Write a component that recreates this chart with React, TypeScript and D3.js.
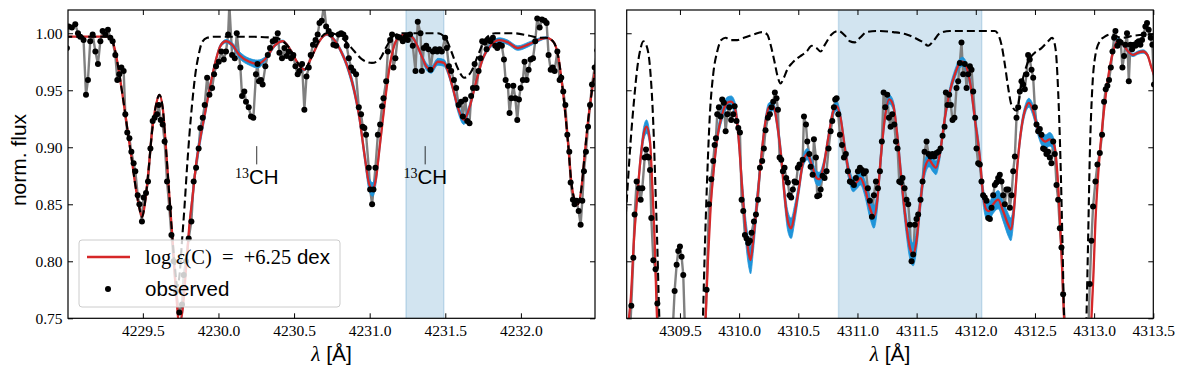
import React, { useEffect, useRef } from 'react';
import * as d3 from 'd3';

// ---- data ----
// observed spectrum, [wavelength (A), normalized flux]
const obsLeft: [number, number][] = [
  [4228.998, 0.987], [4229.009, 1.006], [4229.031, 1.005], [4229.053, 1.008], [4229.071, 1.0], [4229.086, 0.997],
  [4229.108, 0.994], [4229.124, 0.946], [4229.137, 0.959], [4229.152, 0.993], [4229.168, 0.999], [4229.186, 0.984],
  [4229.203, 0.973], [4229.219, 0.993], [4229.234, 1.002], [4229.252, 0.999], [4229.269, 1.003], [4229.285, 0.996],
  [4229.3, 0.993], [4229.318, 0.981], [4229.331, 0.959], [4229.344, 0.964], [4229.358, 0.97], [4229.373, 0.967],
  [4229.384, 0.929], [4229.397, 0.913], [4229.411, 0.908], [4229.424, 0.896], [4229.439, 0.886], [4229.45, 0.879],
  [4229.466, 0.858], [4229.477, 0.85], [4229.494, 0.835], [4229.505, 0.856], [4229.521, 0.86], [4229.534, 0.87],
  [4229.55, 0.899], [4229.565, 0.923], [4229.578, 0.926], [4229.594, 0.929], [4229.605, 0.937], [4229.618, 0.924],
  [4229.631, 0.92], [4229.644, 0.905], [4229.66, 0.87], [4229.675, 0.847], [4229.689, 0.823], [4229.704, 0.8],
  [4229.719, 0.774], [4229.741, 0.755], [4229.759, 0.762], [4229.77, 0.788], [4229.786, 0.8], [4229.803, 0.82],
  [4229.821, 0.835], [4229.836, 0.87], [4229.852, 0.882], [4229.869, 0.899], [4229.88, 0.917], [4229.896, 0.926],
  [4229.909, 0.937], [4229.925, 0.961], [4229.94, 0.946], [4229.958, 0.952], [4229.971, 0.964], [4229.984, 0.971],
  [4230.002, 0.975], [4230.019, 0.984], [4230.035, 0.977], [4230.05, 0.984], [4230.064, 0.999], [4230.072, 1.025],
  [4230.09, 0.981], [4230.108, 0.978], [4230.121, 1.0], [4230.145, 0.97], [4230.156, 0.945], [4230.171, 0.949],
  [4230.182, 0.94], [4230.2, 0.935], [4230.215, 0.927], [4230.231, 0.926], [4230.248, 0.964], [4230.258, 0.973],
  [4230.268, 0.958], [4230.281, 0.959], [4230.292, 0.955], [4230.31, 0.971], [4230.326, 0.981], [4230.341, 0.987],
  [4230.359, 0.993], [4230.376, 0.994], [4230.392, 1.0], [4230.403, 0.983], [4230.42, 0.978], [4230.436, 0.987],
  [4230.451, 0.98], [4230.465, 0.984], [4230.48, 0.978], [4230.495, 0.981], [4230.509, 0.971], [4230.524, 0.964],
  [4230.535, 0.967], [4230.553, 0.973], [4230.568, 0.933], [4230.582, 0.962], [4230.597, 0.97], [4230.61, 0.981],
  [4230.625, 0.99], [4230.642, 0.994], [4230.656, 0.999], [4230.668, 1.009], [4230.683, 1.011], [4230.698, 1.025],
  [4230.712, 1.006], [4230.729, 1.002], [4230.745, 0.999], [4230.76, 0.99], [4230.778, 0.989], [4230.795, 0.999],
  [4230.811, 1.0], [4230.826, 0.999], [4230.84, 0.996], [4230.848, 0.989], [4230.862, 0.978], [4230.877, 0.97],
  [4230.892, 0.967], [4230.91, 0.964], [4230.928, 0.935], [4230.943, 0.929], [4230.954, 0.918], [4230.965, 0.917],
  [4230.976, 0.911], [4230.994, 0.882], [4231.003, 0.863], [4231.016, 0.85], [4231.025, 0.863], [4231.038, 0.882],
  [4231.054, 0.911], [4231.069, 0.92], [4231.082, 0.936], [4231.091, 0.943], [4231.109, 0.958], [4231.12, 0.984],
  [4231.135, 0.994], [4231.148, 0.999], [4231.157, 0.97], [4231.17, 0.978], [4231.186, 0.997], [4231.201, 0.996],
  [4231.219, 0.993], [4231.237, 0.997], [4231.252, 0.994], [4231.267, 0.999], [4231.285, 0.989], [4231.303, 0.967],
  [4231.318, 1.01], [4231.336, 1.0], [4231.345, 0.967], [4231.358, 0.987], [4231.374, 0.989], [4231.389, 0.986],
  [4231.402, 0.968], [4231.418, 0.984], [4231.433, 0.986], [4231.447, 0.984], [4231.462, 0.986], [4231.477, 0.984],
  [4231.499, 0.996], [4231.51, 0.987], [4231.524, 0.971], [4231.539, 0.967], [4231.557, 0.959], [4231.572, 0.952],
  [4231.588, 0.937], [4231.605, 0.94], [4231.616, 0.927], [4231.632, 0.942], [4231.645, 0.923], [4231.66, 0.921],
  [4231.671, 0.945], [4231.683, 0.952], [4231.694, 0.973], [4231.707, 0.952], [4231.72, 0.967], [4231.733, 0.978],
  [4231.744, 0.993], [4231.76, 0.992], [4231.773, 0.986], [4231.786, 0.994], [4231.799, 0.993], [4231.815, 0.996],
  [4231.83, 0.989], [4231.844, 0.987], [4231.859, 0.99], [4231.874, 0.989], [4231.888, 0.977], [4231.899, 0.959],
  [4231.914, 0.954], [4231.925, 0.93], [4231.936, 0.943], [4231.95, 0.954], [4231.963, 0.943], [4231.976, 0.924],
  [4231.987, 0.942], [4231.998, 0.952], [4232.013, 0.959], [4232.024, 0.975], [4232.038, 0.959], [4232.051, 0.968],
  [4232.064, 0.977], [4232.08, 0.978], [4232.095, 0.993], [4232.108, 1.013], [4232.124, 1.005], [4232.139, 1.012],
  [4232.157, 1.011], [4232.17, 1.009], [4232.183, 0.981], [4232.197, 0.968], [4232.21, 0.97], [4232.223, 0.967],
  [4232.241, 0.984], [4232.256, 0.959], [4232.267, 0.961], [4232.28, 0.949], [4232.294, 0.937], [4232.307, 0.911],
  [4232.32, 0.896], [4232.329, 0.869], [4232.344, 0.854], [4232.355, 0.85], [4232.369, 0.853], [4232.382, 0.844],
  [4232.395, 0.832], [4232.406, 0.853], [4232.417, 0.879], [4232.43, 0.896], [4232.444, 0.918], [4232.457, 0.937],
  [4232.47, 0.955], [4232.488, 0.97], [4232.505, 0.985],
];

const obsRight: [number, number][] = [
  [4309.07, 0.72], [4309.089, 0.761], [4309.106, 0.803], [4309.117, 0.841], [4309.134, 0.87], [4309.154, 0.864],
  [4309.168, 0.854], [4309.182, 0.864], [4309.202, 0.891], [4309.213, 0.898], [4309.224, 0.892], [4309.235, 0.891],
  [4309.247, 0.88], [4309.258, 0.838], [4309.275, 0.801], [4309.294, 0.793], [4309.309, 0.763], [4309.33, 0.72],
  [4309.43, 0.72], [4309.455, 0.774], [4309.472, 0.797], [4309.486, 0.809], [4309.5, 0.813], [4309.514, 0.804],
  [4309.528, 0.788], [4309.545, 0.73], [4309.56, 0.7], [4309.7, 0.7], [4309.725, 0.775], [4309.745, 0.85],
  [4309.765, 0.872], [4309.781, 0.888], [4309.793, 0.902], [4309.804, 0.908], [4309.815, 0.929], [4309.829, 0.935],
  [4309.843, 0.927], [4309.857, 0.942], [4309.871, 0.939], [4309.886, 0.914], [4309.9, 0.929], [4309.917, 0.935],
  [4309.933, 0.924], [4309.95, 0.929], [4309.962, 0.936], [4309.978, 0.923], [4309.993, 0.917], [4310.007, 0.913],
  [4310.021, 0.854], [4310.035, 0.844], [4310.049, 0.823], [4310.063, 0.82], [4310.077, 0.816], [4310.091, 0.818],
  [4310.105, 0.825], [4310.125, 0.835], [4310.142, 0.841], [4310.159, 0.854], [4310.176, 0.882], [4310.195, 0.888],
  [4310.209, 0.899], [4310.223, 0.915], [4310.243, 0.926], [4310.26, 0.929], [4310.274, 0.935], [4310.288, 0.94],
  [4310.302, 0.948], [4310.316, 0.943], [4310.328, 0.933], [4310.342, 0.891], [4310.356, 0.889], [4310.37, 0.879],
  [4310.384, 0.882], [4310.398, 0.873], [4310.412, 0.869], [4310.426, 0.858], [4310.44, 0.856], [4310.454, 0.863],
  [4310.468, 0.87], [4310.482, 0.869], [4310.496, 0.882], [4310.51, 0.885], [4310.537, 0.889], [4310.548, 0.927],
  [4310.565, 0.92], [4310.576, 0.905], [4310.593, 0.894], [4310.604, 0.883], [4310.621, 0.876], [4310.632, 0.907],
  [4310.649, 0.891], [4310.66, 0.857], [4310.677, 0.858], [4310.689, 0.863], [4310.705, 0.875], [4310.722, 0.873],
  [4310.739, 0.879], [4310.756, 0.899], [4310.773, 0.914], [4310.787, 0.923], [4310.801, 0.935], [4310.812, 0.942],
  [4310.824, 0.943], [4310.838, 0.929], [4310.852, 0.911], [4310.869, 0.902], [4310.886, 0.891], [4310.902, 0.894],
  [4310.919, 0.879], [4310.936, 0.87], [4310.953, 0.869], [4310.97, 0.867], [4310.987, 0.873], [4311.004, 0.879],
  [4311.021, 0.882], [4311.038, 0.88], [4311.054, 0.877], [4311.071, 0.879], [4311.088, 0.864], [4311.105, 0.853],
  [4311.122, 0.839], [4311.139, 0.858], [4311.156, 0.87], [4311.173, 0.864], [4311.19, 0.879], [4311.206, 0.905],
  [4311.221, 0.948], [4311.235, 0.935], [4311.252, 0.946], [4311.266, 0.926], [4311.28, 0.918], [4311.294, 0.929],
  [4311.311, 0.92], [4311.325, 0.905], [4311.339, 0.899], [4311.353, 0.87], [4311.367, 0.869], [4311.381, 0.873],
  [4311.398, 0.864], [4311.415, 0.854], [4311.429, 0.85], [4311.443, 0.832], [4311.457, 0.8], [4311.471, 0.806],
  [4311.485, 0.832], [4311.499, 0.837], [4311.513, 0.841], [4311.533, 0.854], [4311.55, 0.87], [4311.567, 0.896],
  [4311.584, 0.905], [4311.601, 0.894], [4311.617, 0.892], [4311.634, 0.894], [4311.651, 0.892], [4311.668, 0.895],
  [4311.685, 0.896], [4311.702, 0.899], [4311.719, 0.91], [4311.736, 0.918], [4311.747, 0.948], [4311.761, 0.937],
  [4311.775, 0.946], [4311.789, 0.937], [4311.803, 0.924], [4311.82, 0.926], [4311.837, 0.952], [4311.851, 0.958],
  [4311.865, 0.974], [4311.879, 0.992], [4311.893, 0.964], [4311.907, 0.973], [4311.922, 0.952], [4311.936, 0.964],
  [4311.95, 0.971], [4311.964, 0.968], [4311.978, 0.949], [4311.995, 0.926], [4312.006, 0.899], [4312.02, 0.886],
  [4312.034, 0.885], [4312.048, 0.87], [4312.062, 0.858], [4312.076, 0.856], [4312.091, 0.853], [4312.105, 0.838],
  [4312.119, 0.837], [4312.133, 0.847], [4312.147, 0.858], [4312.161, 0.867], [4312.175, 0.869], [4312.189, 0.873],
  [4312.203, 0.876], [4312.217, 0.87], [4312.231, 0.858], [4312.245, 0.85], [4312.259, 0.863], [4312.274, 0.863],
  [4312.288, 0.847], [4312.302, 0.858], [4312.316, 0.879], [4312.33, 0.892], [4312.344, 0.926], [4312.358, 0.935],
  [4312.372, 0.949], [4312.386, 0.958], [4312.4, 0.955], [4312.414, 0.951], [4312.428, 0.964], [4312.442, 0.981],
  [4312.456, 0.977], [4312.471, 0.968], [4312.485, 0.961], [4312.499, 0.935], [4312.513, 0.92], [4312.527, 0.914],
  [4312.541, 0.916], [4312.555, 0.911], [4312.569, 0.899], [4312.583, 0.898], [4312.597, 0.894], [4312.611, 0.896],
  [4312.625, 0.891], [4312.639, 0.886], [4312.654, 0.905], [4312.668, 0.894], [4312.682, 0.867], [4312.696, 0.854],
  [4312.71, 0.829], [4312.724, 0.812], [4312.738, 0.771], [4312.76, 0.73], [4312.85, 0.65], [4312.94, 0.7],
  [4312.963, 0.78], [4312.977, 0.818], [4312.991, 0.848], [4313.011, 0.87], [4313.028, 0.885], [4313.048, 0.895],
  [4313.067, 0.911], [4313.084, 0.94], [4313.098, 0.951], [4313.112, 0.954], [4313.126, 0.959], [4313.141, 0.97],
  [4313.155, 0.984], [4313.169, 0.996], [4313.18, 1.002], [4313.197, 0.989], [4313.211, 0.993], [4313.225, 0.992],
  [4313.239, 0.97], [4313.253, 0.98], [4313.264, 0.99], [4313.278, 1.0], [4313.293, 0.958], [4313.307, 0.99],
  [4313.321, 0.986], [4313.335, 0.99], [4313.349, 0.989], [4313.363, 0.992], [4313.377, 0.993], [4313.391, 0.99],
  [4313.405, 0.994], [4313.419, 0.999], [4313.433, 1.006], [4313.447, 1.009], [4313.461, 1.003], [4313.478, 0.996],
  [4313.492, 0.99], [4313.506, 0.955],
];

// best-fit synthesis, [wavelength, flux, half-width of the abundance band]
const fitLeft: [number, number, number][] = [
  [4228.98, 0.997, 0], [4229.1, 0.997, 0], [4229.274, 0.997, 0], [4229.296, 0.994, 0], [4229.318, 0.984, 0],
  [4229.34, 0.968, 0], [4229.362, 0.949, 0], [4229.384, 0.929, 0], [4229.406, 0.908, 0], [4229.428, 0.888, 0],
  [4229.45, 0.867, 0], [4229.472, 0.85, 0], [4229.494, 0.839, 0], [4229.516, 0.853, 0], [4229.539, 0.882, 0],
  [4229.561, 0.914, 0], [4229.587, 0.937, 0], [4229.609, 0.946, 0], [4229.631, 0.935, 0], [4229.653, 0.899, 0],
  [4229.675, 0.858, 0], [4229.697, 0.818, 0], [4229.719, 0.774, 0.001], [4229.741, 0.745, 0.002],
  [4229.764, 0.759, 0.003], [4229.786, 0.794, 0.004], [4229.808, 0.832, 0.004], [4229.83, 0.858, 0.005],
  [4229.852, 0.885, 0.005], [4229.88, 0.908, 0.005], [4229.914, 0.932, 0.004], [4229.947, 0.955, 0.003],
  [4229.98, 0.975, 0.002], [4230.013, 0.989, 0.0015], [4230.05, 0.993, 0.0015], [4230.09, 0.99, 0.002],
  [4230.138, 0.981, 0.003], [4230.204, 0.975, 0.003], [4230.259, 0.973, 0.0035], [4230.314, 0.978, 0.002],
  [4230.37, 0.989, 0.0015], [4230.425, 0.993, 0.001], [4230.469, 0.987, 0.001], [4230.524, 0.974, 0.001],
  [4230.568, 0.968, 0.001], [4230.612, 0.978, 0.001], [4230.667, 0.993, 0.001], [4230.716, 0.999, 0.001],
  [4230.767, 0.994, 0.0015], [4230.811, 0.984, 0.002], [4230.855, 0.97, 0.003], [4230.899, 0.949, 0.004],
  [4230.932, 0.926, 0.004], [4230.965, 0.894, 0.005], [4230.998, 0.867, 0.006], [4231.02, 0.863, 0.006],
  [4231.042, 0.873, 0.005], [4231.065, 0.899, 0.004], [4231.098, 0.937, 0.003], [4231.131, 0.97, 0.002],
  [4231.164, 0.99, 0.0015], [4231.197, 0.997, 0.001], [4231.241, 0.999, 0.001], [4231.285, 0.996, 0.0015],
  [4231.341, 0.981, 0.002], [4231.374, 0.971, 0.003], [4231.407, 0.968, 0.003], [4231.451, 0.975, 0.003],
  [4231.491, 0.974, 0.003], [4231.517, 0.967, 0.003], [4231.55, 0.952, 0.003], [4231.583, 0.935, 0.004],
  [4231.623, 0.924, 0.004], [4231.66, 0.935, 0.003], [4231.705, 0.958, 0.002], [4231.749, 0.978, 0.002],
  [4231.804, 0.99, 0.002], [4231.859, 0.994, 0.002], [4231.914, 0.992, 0.002], [4231.98, 0.987, 0.002],
  [4232.047, 0.99, 0.002], [4232.113, 0.994, 0.0015], [4232.168, 0.996, 0.001], [4232.212, 0.993, 0],
  [4232.245, 0.981, 0], [4232.278, 0.949, 0], [4232.311, 0.905, 0], [4232.333, 0.87, 0], [4232.355, 0.854, 0],
  [4232.377, 0.85, 0], [4232.4, 0.864, 0], [4232.422, 0.894, 0], [4232.444, 0.923, 0], [4232.466, 0.946, 0],
  [4232.494, 0.97, 0],
];

const fitRight: [number, number, number][] = [
  [4309.04, 0.72, 0.003], [4309.069, 0.75, 0.004], [4309.083, 0.765, 0.004], [4309.111, 0.818, 0.005],
  [4309.14, 0.858, 0.005], [4309.168, 0.891, 0.006], [4309.196, 0.913, 0.006], [4309.218, 0.918, 0.006],
  [4309.247, 0.905, 0.005], [4309.266, 0.867, 0.004], [4309.286, 0.818, 0.004], [4309.303, 0.759, 0.003],
  [4309.32, 0.72, 0.002], [4309.4, 0.64, 0], [4309.55, 0.62, 0], [4309.68, 0.66, 0], [4309.717, 0.75, 0.002],
  [4309.736, 0.8, 0.003], [4309.759, 0.847, 0.004], [4309.787, 0.882, 0.005], [4309.815, 0.908, 0.005],
  [4309.857, 0.929, 0.005], [4309.9, 0.939, 0.005], [4309.933, 0.94, 0.005], [4309.97, 0.932, 0.006],
  [4309.998, 0.905, 0.007], [4310.026, 0.864, 0.009], [4310.054, 0.829, 0.011], [4310.083, 0.806, 0.012],
  [4310.097, 0.801, 0.012], [4310.119, 0.818, 0.011], [4310.147, 0.847, 0.009], [4310.181, 0.885, 0.006],
  [4310.215, 0.917, 0.005], [4310.252, 0.935, 0.004], [4310.288, 0.936, 0.004], [4310.322, 0.92, 0.005],
  [4310.356, 0.891, 0.007], [4310.384, 0.858, 0.008], [4310.412, 0.835, 0.009], [4310.44, 0.829, 0.009],
  [4310.468, 0.841, 0.008], [4310.505, 0.864, 0.006], [4310.542, 0.888, 0.005], [4310.576, 0.894, 0.005],
  [4310.613, 0.885, 0.005], [4310.655, 0.873, 0.006], [4310.677, 0.872, 0.006], [4310.711, 0.882, 0.005],
  [4310.753, 0.908, 0.004], [4310.796, 0.932, 0.004], [4310.824, 0.936, 0.004], [4310.857, 0.926, 0.004],
  [4310.894, 0.899, 0.005], [4310.931, 0.876, 0.006], [4310.964, 0.867, 0.006], [4310.998, 0.87, 0.006],
  [4311.026, 0.873, 0.006], [4311.063, 0.864, 0.007], [4311.105, 0.847, 0.009], [4311.139, 0.839, 0.01],
  [4311.167, 0.853, 0.009], [4311.195, 0.888, 0.007], [4311.232, 0.926, 0.005], [4311.268, 0.942, 0.004],
  [4311.302, 0.937, 0.004], [4311.336, 0.911, 0.006], [4311.373, 0.87, 0.008], [4311.409, 0.835, 0.009],
  [4311.443, 0.812, 0.01], [4311.471, 0.806, 0.01], [4311.499, 0.818, 0.009], [4311.533, 0.853, 0.008],
  [4311.57, 0.882, 0.007], [4311.606, 0.889, 0.006], [4311.634, 0.885, 0.006], [4311.663, 0.882, 0.006],
  [4311.696, 0.894, 0.005], [4311.739, 0.926, 0.004], [4311.781, 0.949, 0.004], [4311.823, 0.964, 0.004],
  [4311.86, 0.973, 0.004], [4311.888, 0.975, 0.004], [4311.922, 0.97, 0.004], [4311.955, 0.955, 0.005],
  [4311.992, 0.925, 0.006], [4312.034, 0.891, 0.007], [4312.062, 0.858, 0.008], [4312.091, 0.845, 0.008],
  [4312.11, 0.844, 0.008], [4312.147, 0.85, 0.008], [4312.189, 0.854, 0.008], [4312.231, 0.844, 0.009],
  [4312.274, 0.832, 0.01], [4312.296, 0.828, 0.01], [4312.324, 0.847, 0.008], [4312.352, 0.885, 0.006],
  [4312.386, 0.917, 0.005], [4312.42, 0.934, 0.004], [4312.448, 0.939, 0.004], [4312.485, 0.932, 0.005],
  [4312.521, 0.917, 0.005], [4312.555, 0.908, 0.006], [4312.589, 0.905, 0.006], [4312.625, 0.907, 0.006],
  [4312.662, 0.902, 0.005], [4312.69, 0.876, 0.004], [4312.713, 0.832, 0.003], [4312.732, 0.788, 0.002],
  [4312.746, 0.75, 0.001], [4312.766, 0.71, 0], [4312.85, 0.62, 0], [4312.94, 0.66, 0], [4312.963, 0.72, 0.001],
  [4312.977, 0.75, 0.001], [4312.994, 0.788, 0.002], [4313.011, 0.835, 0.002], [4313.034, 0.876, 0.002],
  [4313.062, 0.911, 0.002], [4313.095, 0.943, 0.002], [4313.132, 0.97, 0.002], [4313.169, 0.987, 0.002],
  [4313.202, 0.994, 0.0015], [4313.245, 0.99, 0.0015], [4313.287, 0.984, 0.0015], [4313.329, 0.981, 0.0015],
  [4313.371, 0.983, 0.0015], [4313.414, 0.984, 0.0015], [4313.45, 0.981, 0.0015], [4313.484, 0.97, 0.0015],
  [4313.51, 0.962, 0.0015],
];

// synthesis without carbon (dashed)
const noCarbonLeft: [number, number][] = [
  [4228.98, 0.997], [4229.1, 0.997], [4229.274, 0.997], [4229.296, 0.994], [4229.318, 0.984], [4229.34, 0.968],
  [4229.362, 0.949], [4229.384, 0.929], [4229.406, 0.908], [4229.428, 0.888], [4229.45, 0.867], [4229.472, 0.85],
  [4229.494, 0.839], [4229.516, 0.853], [4229.539, 0.882], [4229.561, 0.914], [4229.587, 0.937], [4229.609, 0.946],
  [4229.631, 0.935], [4229.653, 0.899], [4229.675, 0.858], [4229.697, 0.818], [4229.712, 0.795], [4229.728, 0.778],
  [4229.744, 0.79], [4229.759, 0.818], [4229.775, 0.847], [4229.792, 0.882], [4229.808, 0.911], [4229.825, 0.937],
  [4229.847, 0.964], [4229.869, 0.981], [4229.891, 0.992], [4229.925, 0.996], [4229.98, 0.997], [4230.18, 0.997],
  [4230.38, 0.996], [4230.425, 0.993], [4230.469, 0.987], [4230.524, 0.974], [4230.568, 0.968], [4230.612, 0.978],
  [4230.667, 0.994], [4230.716, 1.0], [4230.78, 0.999], [4230.84, 0.993], [4230.9, 0.984], [4230.95, 0.977],
  [4231.015, 0.974], [4231.065, 0.977], [4231.11, 0.988], [4231.16, 0.998], [4231.22, 1.0], [4231.45, 1.0],
  [4231.5, 0.996], [4231.54, 0.984], [4231.58, 0.97], [4231.625, 0.961], [4231.67, 0.966], [4231.72, 0.982],
  [4231.765, 0.995], [4231.83, 1.0], [4231.95, 1.0], [4232.05, 0.998], [4232.13, 0.996], [4232.168, 0.996],
  [4232.212, 0.993], [4232.245, 0.981], [4232.278, 0.949], [4232.311, 0.905], [4232.333, 0.87], [4232.355, 0.854],
  [4232.377, 0.85], [4232.4, 0.864], [4232.422, 0.894], [4232.444, 0.923], [4232.466, 0.946], [4232.494, 0.97],
];

const noCarbonRight: [number, number][] = [
  [4309.03, 0.82], [4309.055, 0.861], [4309.083, 0.905], [4309.111, 0.94], [4309.14, 0.97], [4309.168, 0.987],
  [4309.19, 0.993], [4309.218, 0.989], [4309.247, 0.97], [4309.275, 0.92], [4309.294, 0.861], [4309.309, 0.812],
  [4309.323, 0.759], [4309.337, 0.72], [4309.5, 0.6], [4309.68, 0.72], [4309.694, 0.75], [4309.708, 0.803],
  [4309.731, 0.876], [4309.753, 0.929], [4309.781, 0.964], [4309.815, 0.984], [4309.849, 0.994], [4309.886, 0.996],
  [4309.928, 0.994], [4309.984, 0.994], [4310.04, 0.996], [4310.125, 0.999], [4310.195, 1.001], [4310.237, 0.999],
  [4310.266, 0.99], [4310.299, 0.975], [4310.328, 0.961], [4310.35, 0.956], [4310.378, 0.961], [4310.406, 0.968],
  [4310.449, 0.974], [4310.491, 0.978], [4310.533, 0.981], [4310.57, 0.984], [4310.613, 0.989], [4310.655, 0.987],
  [4310.689, 0.984], [4310.725, 0.99], [4310.781, 0.999], [4310.838, 1.002], [4310.894, 0.998], [4310.936, 0.993],
  [4310.978, 0.992], [4311.021, 0.996], [4311.077, 1.001], [4311.161, 1.002], [4311.302, 1.001], [4311.415, 0.999],
  [4311.485, 0.996], [4311.556, 0.992], [4311.598, 0.989], [4311.64, 0.993], [4311.696, 1.0], [4311.781, 1.002],
  [4312.161, 1.002], [4312.189, 0.999], [4312.217, 0.99], [4312.245, 0.973], [4312.274, 0.952], [4312.302, 0.937],
  [4312.344, 0.932], [4312.386, 0.955], [4312.442, 0.975], [4312.499, 0.983], [4312.555, 0.987], [4312.611, 0.993],
  [4312.645, 0.996], [4312.673, 0.987], [4312.696, 0.949], [4312.715, 0.891], [4312.732, 0.818], [4312.746, 0.75],
  [4312.76, 0.7], [4312.85, 0.6], [4312.921, 0.7], [4312.935, 0.75], [4312.949, 0.818], [4312.963, 0.891],
  [4312.983, 0.949], [4313.011, 0.981], [4313.048, 0.993], [4313.09, 0.997], [4313.146, 0.999], [4313.231, 0.996],
  [4313.343, 0.998], [4313.512, 0.999],
];

// fitting windows and 13CH markers
const windowLeft = [4231.24, 4231.49];
const windowRight = [4310.84, 4312.05];
const ch13Lines = [4230.253, 4231.367];

const xTicksLeft = [4229.5, 4230.0, 4230.5, 4231.0, 4231.5, 4232.0];
const xTicksRight = [4309.5, 4310.0, 4310.5, 4311.0, 4311.5, 4312.0, 4312.5, 4313.0, 4313.5];
const yTicks = [0.75, 0.8, 0.85, 0.9, 0.95, 1.0];

const W = 1186;
const H = 377;
const TOP = 10;
const BOTTOM = 318.3;
const YDOM = [0.75, 1.0204];

const RED = '#d62728';
const BAND = '#1f94d9';
const SERIF = '"Liberation Serif", "DejaVu Serif", serif';
const SANS = '"Liberation Sans", Arial, sans-serif';

const panels = [
  { x0: 68, x1: 595, domain: [4229.005, 4232.49], ticks: xTicksLeft, obs: obsLeft, fit: fitLeft, nc: noCarbonLeft, win: windowLeft, marks: ch13Lines, ylab: true },
  { x0: 626.7, x1: 1153.3, domain: [4309.05, 4313.5], ticks: xTicksRight, obs: obsRight, fit: fitRight, nc: noCarbonRight, win: windowRight, marks: [], ylab: false },
];

function drawPanel(svg: any, p: any, i: number) {
  const x = d3.scaleLinear().domain(p.domain).range([p.x0, p.x1]);
  const y = d3.scaleLinear().domain(YDOM).range([BOTTOM, TOP]);

  const clipId = 'clip' + i;
  svg.append('clipPath').attr('id', clipId)
    .append('rect').attr('x', p.x0).attr('y', TOP).attr('width', p.x1 - p.x0).attr('height', BOTTOM - TOP);

  const g = svg.append('g').attr('clip-path', `url(#${clipId})`);

  // fitting window
  g.append('rect')
    .attr('x', x(p.win[0])).attr('y', TOP - 2)
    .attr('width', x(p.win[1]) - x(p.win[0])).attr('height', BOTTOM - TOP + 4)
    .attr('fill', '#1f77b4').attr('fill-opacity', 0.2)
    .attr('stroke', '#1f77b4').attr('stroke-opacity', 0.2).attr('stroke-width', 1.5);

  // observed, grey line
  const obsLine = d3.line<[number, number]>().x(d => x(d[0])).y(d => y(d[1]));
  g.append('path').datum(p.obs).attr('d', obsLine)
    .attr('fill', 'none').attr('stroke', '#808080').attr('stroke-width', 2.4).attr('stroke-linejoin', 'round');

  // abundance band
  const band = d3.area<[number, number, number]>()
    .x(d => x(d[0])).y0(d => y(d[1] - d[2])).y1(d => y(d[1] + d[2]))
    .curve(d3.curveMonotoneX);
  g.append('path').datum(p.fit).attr('d', band).attr('fill', BAND).attr('stroke', BAND).attr('stroke-width', 0.8);

  // best fit
  const fitLine = d3.line<[number, number, number]>().x(d => x(d[0])).y(d => y(d[1])).curve(d3.curveMonotoneX);
  g.append('path').datum(p.fit).attr('d', fitLine)
    .attr('fill', 'none').attr('stroke', RED).attr('stroke-width', 2.3);

  // no carbon
  const ncLine = d3.line<[number, number]>().x(d => x(d[0])).y(d => y(d[1])).curve(d3.curveMonotoneX);
  g.append('path').datum(p.nc).attr('d', ncLine)
    .attr('fill', 'none').attr('stroke', '#000').attr('stroke-width', 2.1).attr('stroke-dasharray', '8,4');

  // observed points
  g.selectAll('circle.obs').data(p.obs).enter().append('circle')
    .attr('class', 'obs')
    .attr('cx', (d: number[]) => x(d[0])).attr('cy', (d: number[]) => y(d[1])).attr('r', 3)
    .attr('fill', '#000');

  // 13CH markers
  p.marks.forEach((m: number) => {
    svg.append('line')
      .attr('x1', x(m)).attr('x2', x(m)).attr('y1', y(0.901)).attr('y2', y(0.885))
      .attr('stroke', '#000').attr('stroke-width', 0.8);
    const t = svg.append('text').attr('x', x(m)).attr('y', y(0.885) + 20).attr('text-anchor', 'middle');
    t.append('tspan').attr('font-family', SERIF).attr('font-size', 14).attr('dy', -6).text('13');
    t.append('tspan').attr('font-family', SANS).attr('font-size', 20.5).attr('dy', 6).text('CH');
  });

  // axes, ticks pointing inward on all sides
  const fmt = d3.format('.1f');
  const bottom = svg.append('g').attr('transform', `translate(0,${BOTTOM})`)
    .call(d3.axisBottom(x).tickValues(p.ticks).tickSize(-5).tickPadding(7).tickFormat((d: any) => fmt(d)));
  const top = svg.append('g').attr('transform', `translate(0,${TOP})`)
    .call(d3.axisTop(x).tickValues(p.ticks).tickSize(-5).tickFormat(() => ''));
  const left = svg.append('g').attr('transform', `translate(${p.x0},0)`)
    .call(d3.axisLeft(y).tickValues(yTicks).tickSize(-5).tickPadding(5.5)
      .tickFormat((d: any) => (p.ylab ? d3.format('.2f')(d) : '')));
  const right = svg.append('g').attr('transform', `translate(${p.x1},0)`)
    .call(d3.axisRight(y).tickValues(yTicks).tickSize(-5).tickFormat(() => ''));

  [bottom, top, left, right].forEach((a: any) => {
    a.select('.domain').remove();
    a.selectAll('.tick line').attr('stroke', '#000').attr('stroke-width', 1);
    a.selectAll('.tick text').attr('font-family', SERIF).attr('font-size', 15.5).attr('fill', '#000');
  });

  svg.append('rect').attr('x', p.x0).attr('y', TOP).attr('width', p.x1 - p.x0).attr('height', BOTTOM - TOP)
    .attr('fill', 'none').attr('stroke', '#000').attr('stroke-width', 1.2);

  // x label
  const xl = svg.append('text').attr('x', (p.x0 + p.x1) / 2).attr('y', 361).attr('text-anchor', 'middle').attr('font-size', 21);
  xl.append('tspan').attr('font-family', SERIF).attr('font-style', 'italic').text('λ');
  xl.append('tspan').attr('font-family', SANS).text(' [Å]');
}

function drawLegend(svg: any) {
  const g = svg.append('g');
  g.append('rect').attr('x', 79).attr('y', 240).attr('width', 261).attr('height', 67).attr('rx', 3)
    .attr('fill', '#fff').attr('fill-opacity', 0.8).attr('stroke', '#cccccc').attr('stroke-width', 1);
  g.append('line').attr('x1', 87).attr('x2', 130).attr('y1', 257).attr('y2', 257)
    .attr('stroke', RED).attr('stroke-width', 2.3);
  const t = g.append('text').attr('x', 145).attr('y', 264).attr('font-size', 20.5).attr('xml:space', 'preserve');
  t.append('tspan').attr('font-family', SERIF).text('log ');
  t.append('tspan').attr('font-family', SERIF).attr('font-style', 'italic').text('ε');
  t.append('tspan').attr('font-family', SERIF).text('(C)  =  +6.25');
  t.append('tspan').attr('font-family', SANS).text(' dex');
  g.append('circle').attr('cx', 108).attr('cy', 289).attr('r', 3).attr('fill', '#000');
  g.append('text').attr('x', 145).attr('y', 296).attr('font-size', 20.5).attr('font-family', SANS).text('observed');
}

export default function App() {
  const ref = useRef<SVGSVGElement>(null);
  useEffect(() => {
    const svg = d3.select(ref.current);
    svg.selectAll('*').remove();
    panels.forEach((p, i) => drawPanel(svg, p, i));
    drawLegend(svg);
    svg.append('text')
      .attr('transform', 'translate(26,160) rotate(-90)')
      .attr('text-anchor', 'middle').attr('font-family', SANS).attr('font-size', 21)
      .text('norm. flux');
  }, []);
  return <svg ref={ref} width={W} height={H} style={{ position: 'absolute', left: 0, top: 0, background: '#fff' }} />;
}
